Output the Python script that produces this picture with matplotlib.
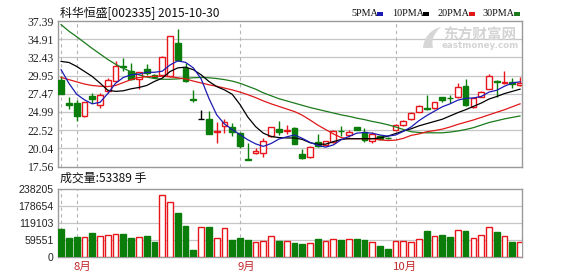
import matplotlib
matplotlib.use("Agg")
import matplotlib.pyplot as plt
from matplotlib.patches import Rectangle, PathPatch
from matplotlib.path import Path
import numpy as np

# ---- data: 科华恒盛 (002335) daily bars, 2015-07-30 .. 2015-10-30 ----
opens = [29.38, 26.2, 26.2, 24.4, 27.2, 26.0, 27.8, 29.25, 31.2, 30.6,
         29.5, 30.85, 30.05, 30.0, 29.9, 34.4, 31.0, 26.7, 24.05, 24.05,
         22.3, 23.1, 23.0, 22.1, 18.65, 19.4, 19.4, 21.65, 22.65, 22.45,
         22.8, 19.25, 18.9, 20.9, 20.5, 20.9, 22.45, 21.8, 22.95, 22.25,
         21.05, 21.7, 21.5, 22.6, 23.15, 24.0, 25.05, 25.6, 25.5, 27.0,
         26.9, 27.1, 28.55, 25.65, 27.1, 28.15, 29.2, 28.95, 29.05, 28.7]
highs = [29.9, 27.1, 26.65, 26.4, 27.6, 27.6, 29.6, 31.9, 32.3, 31.7,
         30.5, 31.5, 30.1, 32.6, 35.4, 36.3, 31.7, 28.0, 25.2, 25.1,
         23.6, 24.05, 23.5, 22.3, 20.7, 20.1, 21.4, 22.9, 23.7, 23.2,
         22.9, 19.9, 20.4, 22.0, 21.1, 22.5, 23.1, 22.5, 23.0, 22.8,
         22.2, 21.9, 21.6, 23.3, 23.9, 24.95, 25.95, 27.35, 26.4, 27.1,
         27.35, 28.9, 29.5, 27.0, 27.8, 30.1, 29.3, 30.6, 29.6, 29.8]
lows = [27.4, 25.4, 23.7, 24.3, 26.2, 25.5, 27.6, 29.15, 30.6, 29.4,
        28.1, 30.0, 29.7, 29.9, 29.8, 31.9, 29.1, 26.4, 24.05, 22.0,
        20.75, 22.1, 21.65, 20.05, 18.45, 19.2, 18.8, 21.6, 21.8, 22.0,
        20.6, 18.6, 18.7, 20.2, 20.4, 20.8, 21.65, 21.6, 22.5, 20.9,
        20.8, 21.2, 21.3, 22.5, 23.1, 23.95, 25.0, 25.3, 25.4, 26.3,
        26.2, 26.9, 25.75, 25.6, 27.0, 28.1, 27.1, 28.8, 28.2, 28.5]
closes = [27.47, 26.0, 24.4, 26.3, 26.8, 27.3, 29.3, 31.3, 31.1, 29.5,
          30.4, 30.25, 29.75, 32.5, 35.3, 32.1, 29.25, 26.6, 24.05, 22.0,
          22.4, 23.6, 22.2, 20.3, 18.5, 19.7, 21.0, 22.9, 22.25, 22.5,
          20.65, 18.7, 20.15, 20.3, 21.0, 22.35, 22.4, 22.25, 22.55, 21.2,
          21.95, 21.3, 21.45, 23.25, 23.7, 24.85, 25.75, 25.45, 26.3, 26.65,
          26.85, 28.35, 25.9, 26.9, 27.65, 29.95, 29.1, 29.05, 28.8, 28.9]
volumes = [99500, 66000, 70000, 70000, 85000, 74000, 77000, 81000, 81000, 66000,
           70000, 74000, 52000, 217000, 192000, 155000, 110000, 26000, 107000, 107000,
           66000, 103000, 59000, 66000, 59000, 52000, 55000, 74000, 55000, 55000,
           48000, 44000, 48000, 63000, 55000, 63000, 59000, 63000, 63000, 59000,
           52000, 40000, 29000, 55000, 55000, 52000, 63000, 92000, 74000, 77000,
           70000, 96000, 92000, 66000, 77000, 107000, 88000, 74000, 52000, 53389]

ma5 = [30.75, 28.9, 27.4, 26.65, 26.1, 26.3, 27.5, 28.9, 29.7, 30.05,
       30.15, 30.4, 30.4, 30.55, 31.4, 31.95, 31.75, 31.0, 29.5, 26.85,
       24.6, 23.35, 22.6, 21.9, 21.2, 20.65, 20.3, 20.7, 21.3, 21.6,
       21.85, 21.4, 20.85, 20.45, 20.2, 20.5, 21.2, 21.65, 22.1, 22.2,
       22.1, 21.85, 21.7, 21.85, 22.35, 22.95, 23.8, 24.5, 25.1, 25.7,
       26.1, 26.6, 26.85, 26.9, 27.1, 27.7, 27.95, 28.5, 28.95, 29.1]
ma10 = [31.88, 31.74, 31.2, 30.52, 29.83, 28.93, 27.95, 27.8, 27.88, 28.15,
        28.33, 28.6, 29.15, 29.6, 30.5, 31.0, 31.1, 30.75, 30.06, 29.15,
        28.45, 28.0, 27.4, 26.0, 24.3, 23.0, 22.1, 21.65, 21.5, 21.45,
        21.45, 21.25, 20.8, 20.6, 20.6, 20.95, 21.25, 21.35, 21.35, 21.35,
        21.35, 21.45, 21.7, 22.05, 22.4, 22.7, 23.1, 23.4, 23.7, 24.0,
        24.45, 24.9, 25.3, 25.75, 26.2, 26.75, 27.1, 27.5, 27.8, 28.1]
ma20 = [29.7, 29.4, 29.1, 28.8, 28.6, 28.5, 28.45, 28.6, 29.0, 29.4,
        29.7, 29.8, 29.85, 29.85, 29.8, 29.65, 29.5, 29.2, 28.95, 28.7,
        28.5, 28.25, 28.0, 27.7, 27.35, 26.95, 26.5, 26.1, 25.75, 25.4,
        25.05, 24.55, 23.9, 23.2, 22.6, 22.0, 21.5, 21.35, 21.35, 21.35,
        21.35, 21.2, 21.1, 21.15, 21.4, 21.8, 22.0, 22.3, 22.45, 22.65,
        22.95, 23.3, 23.6, 23.9, 24.25, 24.6, 24.95, 25.3, 25.7, 26.1]
ma30 = [36.9, 36.0, 35.25, 34.45, 33.65, 32.9, 32.15, 31.5, 30.95, 30.45,
        30.05, 29.75, 29.55, 29.45, 29.45, 29.5, 29.6, 29.65, 29.7, 29.65,
        29.55, 29.4, 29.2, 28.9, 28.5, 28.1, 27.6, 27.2, 26.8, 26.5,
        26.2, 25.9, 25.6, 25.35, 25.1, 24.85, 24.6, 24.4, 24.15, 23.95,
        23.7, 23.5, 23.25, 22.95, 22.6, 22.3, 22.2, 22.15, 22.15, 22.15,
        22.25, 22.4, 22.6, 22.85, 23.2, 23.55, 23.8, 24.05, 24.25, 24.45]

price_ticks = [17.56, 20.04, 22.52, 24.99, 27.47, 29.95, 32.43, 34.91, 37.39]
vol_ticks = [0, 59551, 119103, 178654, 238205]
month_labels = ["8月", "9月", "10月"]
month_starts = [2, 23, 43]   # first trading day of each month
ma_names = ["5PMA", "10PMA", "20PMA", "30PMA"]

# ---- styling ----
W, H = 578, 276
RED = "#e8161b"
GREEN = "#0a7d0a"
MA_COLORS = ["#1c1cb4", "#000000", "#e01818", "#1b7a1b"]
GRID = "#c6c6c6"
FRAME = "#9a9a9a"
CJK = ["Noto Sans CJK SC", "DejaVu Sans"]

fig = plt.figure(figsize=(W / 100, H / 100), dpi=100)
fig.patch.set_facecolor("white")


def box(l, t, r, b):
    return [l / W, 1 - b / H, (r - l) / W, (b - t) / H]


def fx(px):
    return px / W


def fy(py):
    return 1 - py / H


ax = fig.add_axes(box(58, 21, 522, 166.5))
axv = fig.add_axes(box(58, 189.3, 522, 257))

n = len(closes)
x = np.arange(n)
bw = 0.74

for a in (ax, axv):
    a.set_xlim(-0.4, n - 0.75)
    for s in a.spines.values():
        s.set_color(FRAME)
        s.set_linewidth(1.0)
    a.set_xticks([])
    a.tick_params(axis="y", length=0, pad=3, colors="#222222")
    for xs in [0] + month_starts:
        a.axvline(xs, color="#b4b4b4", lw=0.8, ls=(0, (3, 3)), zorder=1)

# price panel
ax.set_ylim(price_ticks[0], price_ticks[-1])
ax.set_yticks(price_ticks)
ax.set_yticklabels([f"{v:.2f}" for v in price_ticks],
                   fontfamily="Liberation Serif", fontsize=8.4)
for v in price_ticks[1:-1]:
    ax.axhline(v, color=GRID, lw=0.9, zorder=0.5)

for i in range(n):
    o, h, l, c = opens[i], highs[i], lows[i], closes[i]
    if c > o:
        ax.vlines(i, l, o, color=RED, lw=1.0, zorder=2)
        ax.vlines(i, c, h, color=RED, lw=1.0, zorder=2)
        ax.add_patch(Rectangle((i - bw / 2, o), bw, c - o, facecolor="white",
                               edgecolor=RED, lw=1.0, zorder=3))
    elif c < o:
        ax.vlines(i, l, h, color=GREEN, lw=1.0, zorder=2)
        ax.add_patch(Rectangle((i - bw / 2, c), bw, o - c, facecolor=GREEN,
                               edgecolor=GREEN, lw=1.0, zorder=3))
    else:
        ax.vlines(i, l, h, color="#000000", lw=1.0, zorder=2)
        ax.hlines(o, i - bw / 2, i + bw / 2, color="#000000", lw=1.0, zorder=3)

for series, col in zip([ma30, ma20, ma10, ma5], MA_COLORS[::-1]):
    ax.plot(x, series, color=col, lw=0.9, zorder=4, solid_joinstyle="round")

# volume panel
axv.set_ylim(0, vol_ticks[-1])
axv.set_yticks(vol_ticks)
axv.set_yticklabels([str(v) for v in vol_ticks],
                    fontfamily="Liberation Sans", fontsize=7.6)
for v in vol_ticks[1:-1]:
    axv.axhline(v, color=GRID, lw=0.9, zorder=0.5)

for i in range(n):
    if closes[i] >= opens[i]:
        axv.add_patch(Rectangle((i - bw / 2, 0), bw, volumes[i], facecolor="white",
                                edgecolor=RED, lw=1.0, zorder=3))
    else:
        axv.add_patch(Rectangle((i - bw / 2, 0), bw, volumes[i], facecolor=GREEN,
                                edgecolor=GREEN, lw=1.0, zorder=3))

# month labels under the volume panel
for lab, ms in zip(month_labels, month_starts):
    xp = 58 + (ms + 0.4) / (n - 0.35) * 464
    fig.text(fx(xp - 3), fy(267), lab, color="#c0282c", fontsize=8.2,
             family=CJK, ha="left", va="center")

# title and volume caption
fig.text(fx(60), fy(13.5), "科华恒盛[002335] 2015-10-30", fontsize=8.6,
         family=CJK, ha="left", va="center", color="#111111")
fig.text(fx(60), fy(178.5), f"成交量:{volumes[-1]} 手", fontsize=8.6,
         family=CJK, ha="left", va="center", color="#111111")

# moving-average legend
leg_x = [351, 392, 437, 482]
for name, lx in zip(ma_names, leg_x):
    fig.text(fx(lx), fy(13.5), name, fontsize=7.3, family="Liberation Serif",
             ha="left", va="center", color="#111111")
leg_mark = [377, 423, 469, 514]
for mx, col in zip(leg_mark, MA_COLORS):
    fig.patches.append(Rectangle((fx(mx), fy(15.5)), 5.5 / W, 3 / H,
                                 transform=fig.transFigure, facecolor=col,
                                 edgecolor="none"))

# watermark: swoosh logo plus site name
def to_fig(pts):
    return [(fx(px), fy(py)) for px, py in pts]

swoosh = Path(to_fig([(423, 48), (424, 36), (432, 29), (441, 27),
                      (434, 33), (431, 40), (433, 48), (423, 48)]),
              [Path.MOVETO, Path.CURVE4, Path.CURVE4, Path.CURVE4,
               Path.CURVE4, Path.CURVE4, Path.CURVE4, Path.CLOSEPOLY])
fig.patches.append(PathPatch(swoosh, transform=fig.transFigure,
                             facecolor="#d6d6d6", edgecolor="none", zorder=0))
fig.text(fx(480), fy(35), "东方财富网", fontsize=10.5, family=CJK,
         fontweight="bold", ha="center", va="center", color="#d4d4d4", zorder=0)
fig.text(fx(480), fy(46), "eastmoney.com", fontsize=6.3, family="DejaVu Sans",
         fontweight="bold", ha="center", va="center", color="#d4d4d4", zorder=0)

fig.savefig("out.png", dpi=100, facecolor="white")
